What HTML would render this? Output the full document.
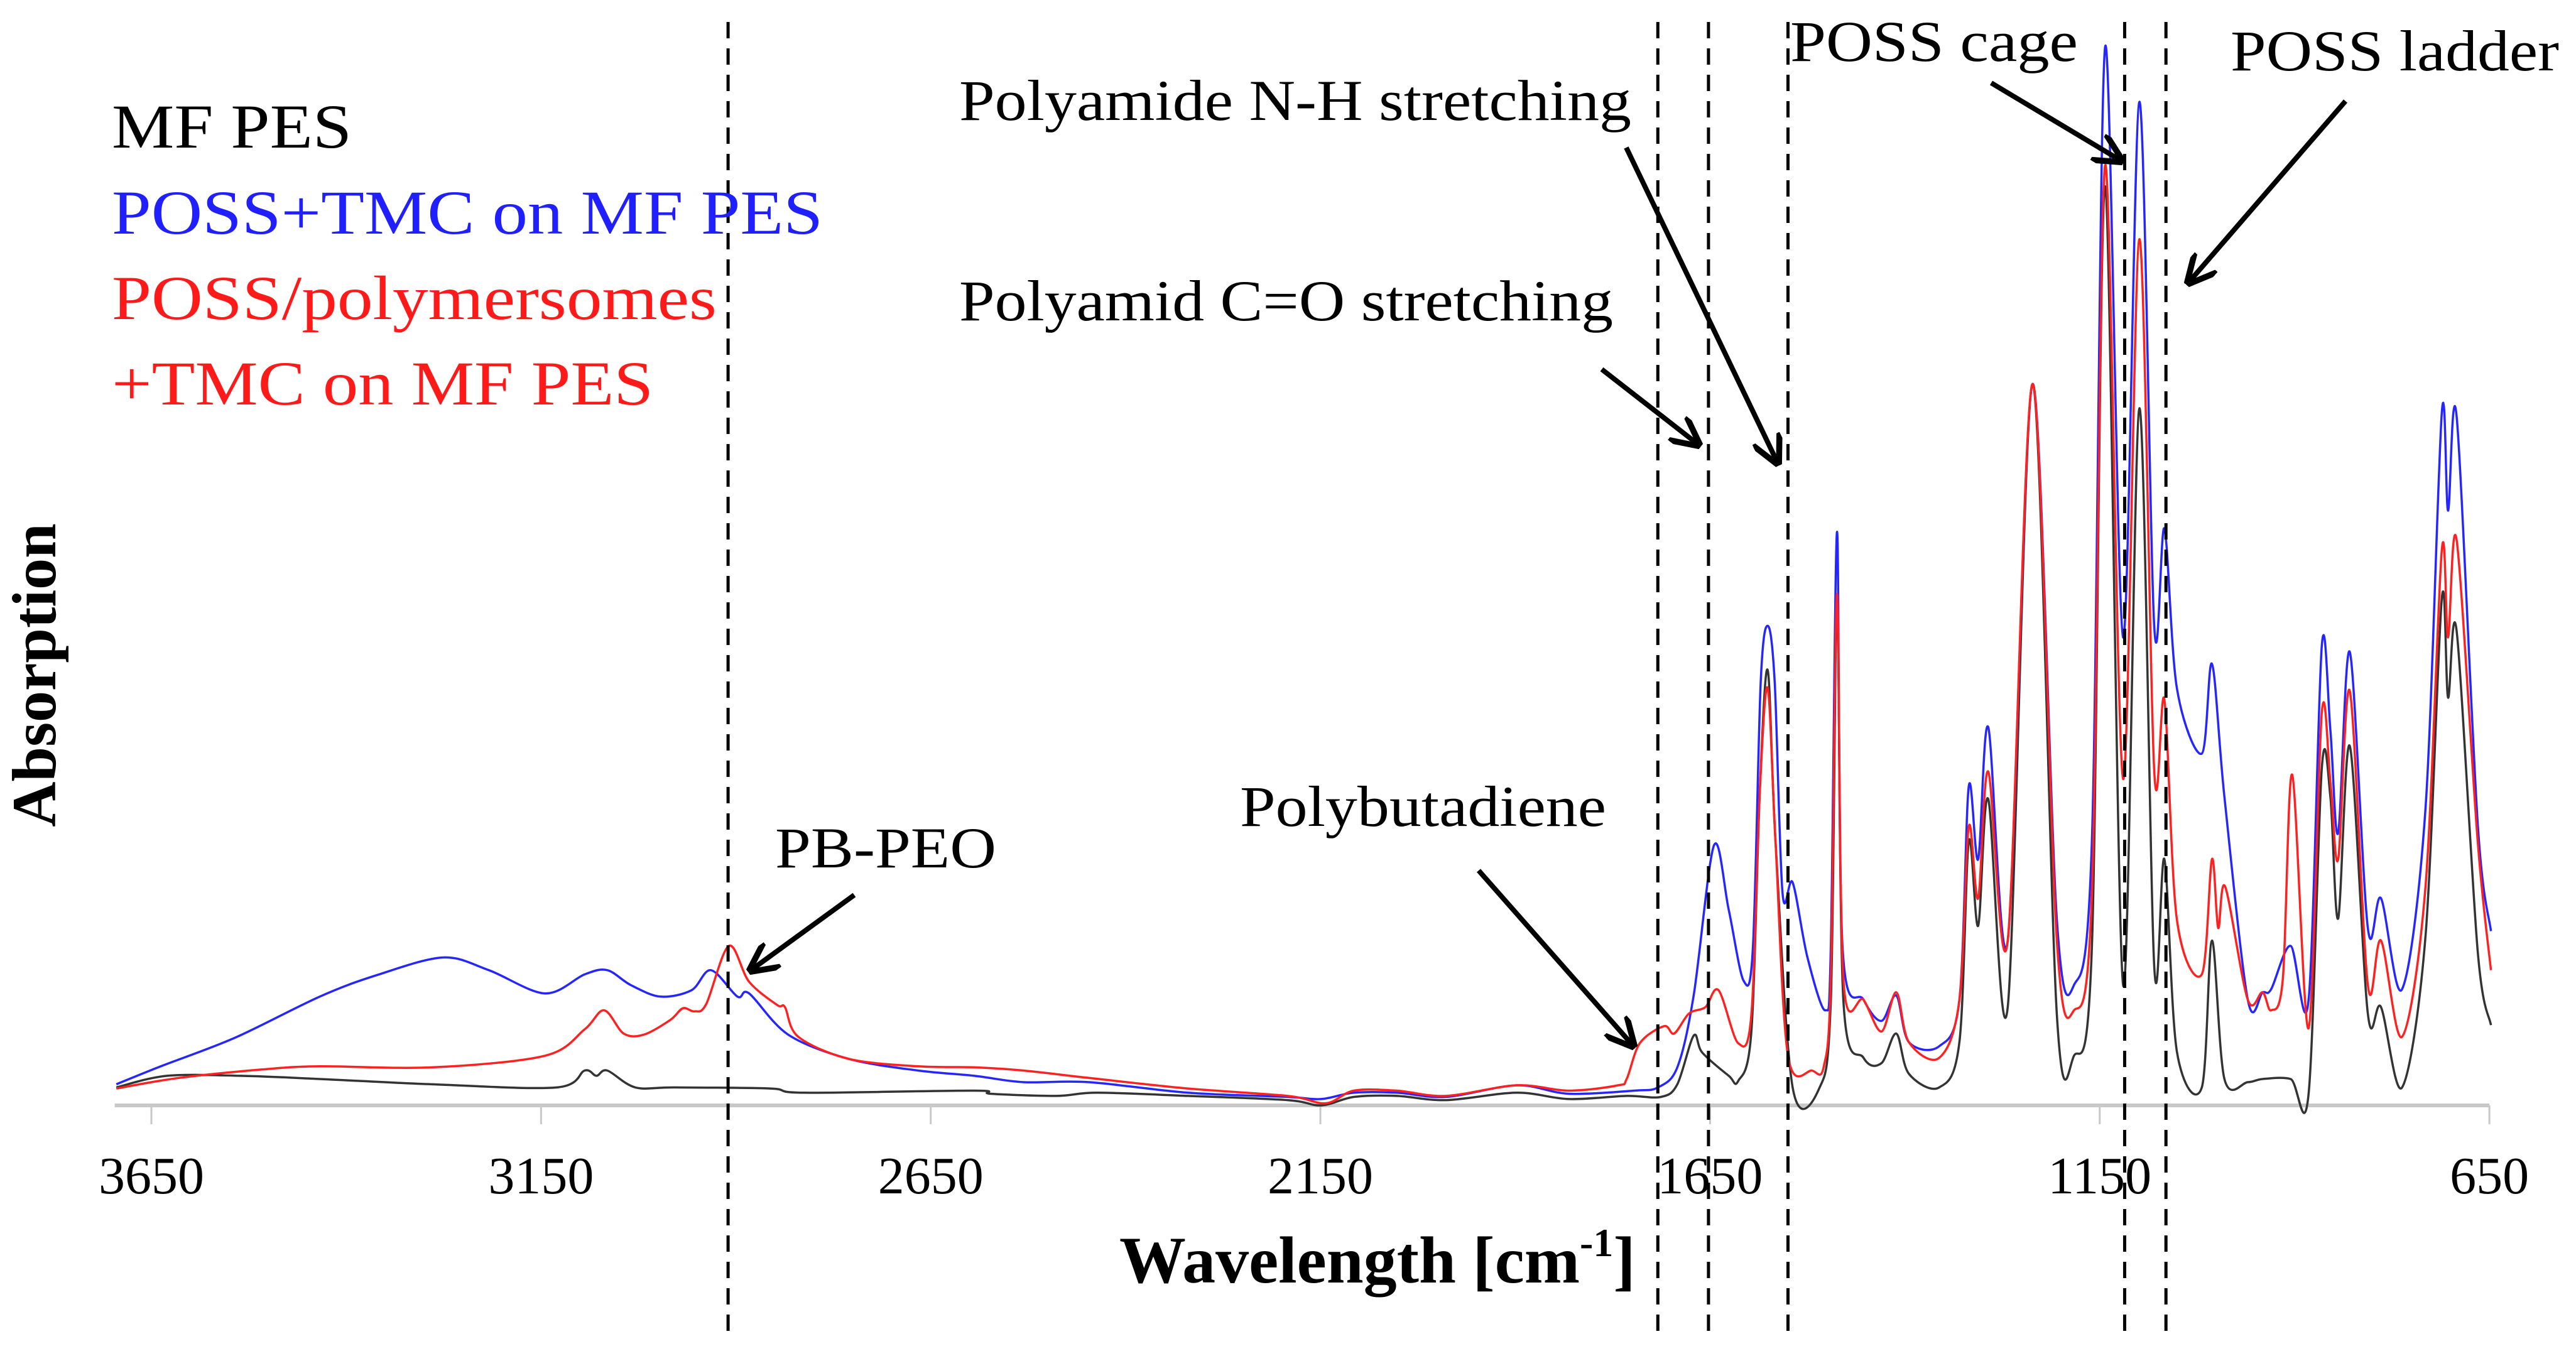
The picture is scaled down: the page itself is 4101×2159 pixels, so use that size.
<!DOCTYPE html>
<html><head><meta charset="utf-8"><style>
html,body{margin:0;padding:0;background:#fff;}
svg{display:block;}
text{font-family:"Liberation Serif","Times New Roman",serif;}
</style></head><body>
<svg id="chart" width="4101" height="2159" viewBox="0 0 4101 2159" xmlns="http://www.w3.org/2000/svg">
<defs>
<marker id="ah" viewBox="0 0 10 10" refX="9" refY="5" markerWidth="6" markerHeight="6" orient="auto" markerUnits="strokeWidth">
<path d="M0,0 L10,5 L0,10" fill="none" stroke="#000" stroke-width="2"/>
</marker>
</defs>
<g id="axis"></g>
<g id="series"></g>
<g id="guides"></g>
<g font-size="100">
<text x="178" y="235" fill="#000" textLength="382" lengthAdjust="spacingAndGlyphs">MF PES</text>
<text x="178" y="372" fill="#1f1fff" textLength="1132" lengthAdjust="spacingAndGlyphs">POSS+TMC on MF PES</text>
<text x="178" y="508" fill="#ff1a1a" textLength="963" lengthAdjust="spacingAndGlyphs">POSS/polymersomes</text>
<text x="178" y="644" fill="#ff1a1a" textLength="862" lengthAdjust="spacingAndGlyphs">+TMC on MF PES</text>
</g>
<g font-size="92" fill="#000">
<text x="1234" y="1381" textLength="352" lengthAdjust="spacingAndGlyphs">PB-PEO</text>
<text x="1974" y="1315" textLength="583" lengthAdjust="spacingAndGlyphs">Polybutadiene</text>
<text x="1527" y="510" textLength="1041" lengthAdjust="spacingAndGlyphs">Polyamid C=O stretching</text>
<text x="1527" y="191" textLength="1070" lengthAdjust="spacingAndGlyphs">Polyamide N-H stretching</text>
<text x="2850" y="97" textLength="458" lengthAdjust="spacingAndGlyphs">POSS cage</text>
<text x="3551" y="112" textLength="523" lengthAdjust="spacingAndGlyphs">POSS ladder</text>
<g stroke="#000" stroke-width="8" fill="none" marker-end="url(#ah)">
<line x1="1360" y1="1425" x2="1195" y2="1545"/>
<line x1="2354" y1="1386" x2="2600" y2="1665"/>
<line x1="2550" y1="588" x2="2704" y2="708"/>
<line x1="2589" y1="235" x2="2830" y2="737"/>
<line x1="3170" y1="132" x2="3377" y2="256"/>
<line x1="3734" y1="161" x2="3484" y2="450"/>
</g>
</g>
<text x="0" y="0" font-size="100" font-weight="bold" text-anchor="middle" transform="translate(88,1075) rotate(-90)">Absorption</text>
<text x="1782" y="2042" font-size="106" font-weight="bold">Wavelength [cm<tspan font-size="64" dy="-42">-1</tspan><tspan dy="42">]</tspan></text>
</svg>
<script>
const ticks = [3650,3150,2650,2150,1650,1150,650];
const guideWavenumbers = [2910,1717,1652,1550,1118,1065];
const mfPes = [[3695,1.7],[3630,2.8],[3535,2.8],[3434,2.5],[3290,2.0],[3130,1.7],[3094,3.3],[3079,2.8],[3065,3.3],[3029,1.7],[2978,1.7],[2856,1.6],[2812,1.2],[2594,1.4],[2573,1.1],[2489,0.9],[2436,1.2],[2320,0.9],[2192,0.5],[2149,0],[2107,0.8],[2052,0.9],[1989,0.5],[1898,1.2],[1831,0.6],[1757,0.9],[1713,0.8],[1692,2],[1671,6.6],[1660,5],[1626,2.8],[1614,2.3],[1597,7],[1586,30],[1576,41.2],[1566,25],[1544,1.7],[1510,1.6],[1495,10],[1487,47.8],[1479,10],[1453,4.5],[1430,4],[1411,6.8],[1395,3],[1356,1.7],[1330,6],[1318,25.0],[1306,17.0],[1293,29.0],[1268,9.3],[1236,68.3],[1205,8.6],[1183,4.7],[1160,15],[1143,87],[1120,11.4],[1099,66],[1080,13.1],[1067,23.3],[1051,5.1],[1019,1.7],[1006,15.6],[990,2.5],[960,2.2],[941,2.5],[905,2.5],[882,1.1],[865,31.9],[854,29.2],[844,17.7],[829,34.0],[806,8.7],[789,9.3],[762,1.7],[732,16.0],[711,48.0],[703,38.6],[692,44.9],[665,14.6],[648,7.6]];
const possTmc = [[3695,2.0],[3638,3.7],[3543,6.4],[3434,10.3],[3362,12.3],[3276,14.0],[3217,12.8],[3145,10.6],[3094,12.4],[3065,12.8],[3035,11.4],[2997,10.3],[2957,10.9],[2932,12.8],[2898,10.3],[2883,10.6],[2833,6.7],[2755,4.4],[2666,3.3],[2594,2.8],[2531,2.2],[2447,2.2],[2320,1.2],[2192,0.8],[2149,0.6],[2107,1.2],[2052,1.2],[1989,0.8],[1898,1.9],[1831,1.1],[1747,1.4],[1717,1.7],[1692,3.6],[1671,10.4],[1645,24.6],[1626,18.5],[1607,11.8],[1595,14.9],[1585,40],[1576,45.4],[1567,40],[1557,20.1],[1544,21.1],[1525,14],[1502,9.0],[1495,15],[1487,54.3],[1480,15],[1453,10],[1430,8],[1411,10.4],[1395,6],[1356,5.6],[1330,10],[1318,30.2],[1306,23.3],[1293,35.8],[1268,15.6],[1236,68.3],[1205,17.6],[1183,11.4],[1160,25],[1143,100.2],[1120,44.3],[1099,95],[1080,45.3],[1067,54.6],[1051,39.5],[1019,33.3],[1006,41.8],[990,29.2],[960,10.0],[941,10.7],[930,11],[905,15.1],[882,10],[865,43.5],[854,35.5],[844,25.8],[829,42.9],[806,16.8],[789,19.6],[762,11.0],[732,28.1],[711,65.6],[703,56.3],[692,65.2],[665,26.7],[648,16.5]];
const possPolymersomes = [[3695,1.6],[3615,2.6],[3508,3.4],[3434,3.7],[3290,3.6],[3145,4.7],[3094,7.2],[3069,9.0],[3044,6.8],[3018,6.7],[2984,8.1],[2968,9.2],[2953,8.9],[2938,9.6],[2909,15.1],[2883,11.7],[2847,9.5],[2837,9.3],[2820,6.5],[2755,4.4],[2666,3.7],[2594,3.6],[2531,3.3],[2447,2.6],[2320,1.6],[2192,0.9],[2143,0.2],[2107,1.4],[2052,1.4],[1989,0.9],[1898,1.9],[1831,1.4],[1768,1.9],[1757,2.5],[1740,5.9],[1709,7.5],[1696,6.8],[1677,8.7],[1656,9.3],[1639,10.9],[1614,5.9],[1597,8.6],[1586,30],[1576,39.5],[1566,25],[1550,4.7],[1519,3.3],[1504,3.7],[1495,12],[1487,48.4],[1479,12],[1453,10],[1430,7],[1411,10.7],[1395,6],[1356,4.5],[1330,10],[1318,26.4],[1306,19.6],[1293,31.6],[1268,15.6],[1236,68.3],[1205,15.6],[1183,9.0],[1160,20],[1143,89],[1120,30.9],[1099,82],[1080,31.6],[1067,38.4],[1051,17.6],[1019,12.4],[1006,23.3],[998,16.8],[989,20.7],[960,10.0],[941,10.7],[930,9.0],[915,12],[903,31.3],[882,7.3],[865,37.2],[854,30.6],[844,23.3],[829,39.2],[806,11.4],[789,15.6],[762,6.5],[732,20.7],[711,52.6],[703,44.3],[692,53.5],[665,25.0],[648,12.8]];

const NS = 'http://www.w3.org/2000/svg';
function X(w){ return 241 + (3650 - w) * 1.2407; }
function Y(a){ return 1760 - a * 16.82; }

const axis = document.getElementById('axis');
const base = document.createElementNS(NS,'line');


base.setAttribute('x1', X(3697)); base.setAttribute('x2', X(650));
base.setAttribute('y1', 1760); base.setAttribute('y2', 1760);
base.setAttribute('stroke', '#c8c8c8'); base.setAttribute('stroke-width', '6');
axis.appendChild(base);
ticks.forEach(t => {
  const l = document.createElementNS(NS,'line');
  
  
  l.setAttribute('x1', X(t)); l.setAttribute('x2', X(t));
  l.setAttribute('y1', 1760); l.setAttribute('y2', 1790);
  l.setAttribute('stroke', '#c8c8c8'); l.setAttribute('stroke-width', '3');
  axis.appendChild(l);
  const tx = document.createElementNS(NS,'text');
  
  
  tx.setAttribute('x', X(t)); tx.setAttribute('y', 1900);
  tx.setAttribute('text-anchor', 'middle'); tx.setAttribute('font-size', '84');
  tx.textContent = String(t);
  axis.appendChild(tx);
});

function pathFor(data){
  const p = data.map(d => [X(d[0]), Y(d[1])]);
  let s = 'M' + p[0][0].toFixed(1) + ',' + p[0][1].toFixed(1);
  for (let i = 0; i < p.length - 1; i++) {
    const p0 = p[i-1] || p[i], p1 = p[i], p2 = p[i+1], p3 = p[i+2] || p2;
    const k = 0.16;
    const c1 = [p1[0] + (p2[0]-p0[0])*k, p1[1] + (p2[1]-p0[1])*k];
    const c2 = [p2[0] - (p3[0]-p1[0])*k, p2[1] - (p3[1]-p1[1])*k];
    s += 'C' + c1[0].toFixed(1) + ',' + c1[1].toFixed(1) + ' ' + c2[0].toFixed(1) + ',' + c2[1].toFixed(1) + ' ' + p2[0].toFixed(1) + ',' + p2[1].toFixed(1);
  }
  return s;
}
const sg = document.getElementById('series');
const s3 = document.createElementNS(NS,'path');


s3.setAttribute('d', pathFor(mfPes)); s3.setAttribute('stroke', '#333');
const s1 = document.createElementNS(NS,'path');


s1.setAttribute('d', pathFor(possTmc)); s1.setAttribute('stroke', '#2525ff');
const s2 = document.createElementNS(NS,'path');


s2.setAttribute('d', pathFor(possPolymersomes)); s2.setAttribute('stroke', '#ff2020');
[s3,s1,s2].forEach(s => { s.setAttribute('fill','none'); s.setAttribute('stroke-width','3.5'); s.setAttribute('stroke-linejoin','round'); sg.appendChild(s); });

const gg = document.getElementById('guides');
guideWavenumbers.forEach(w => {
  const l = document.createElementNS(NS,'line');
  
  
  l.setAttribute('x1', X(w)); l.setAttribute('x2', X(w));
  l.setAttribute('y1', 35); l.setAttribute('y2', 2135);
  l.setAttribute('stroke', '#000'); l.setAttribute('stroke-width', '5');
  l.setAttribute('stroke-dasharray', '26 16');
  gg.appendChild(l);
});
</script>
</body></html>
